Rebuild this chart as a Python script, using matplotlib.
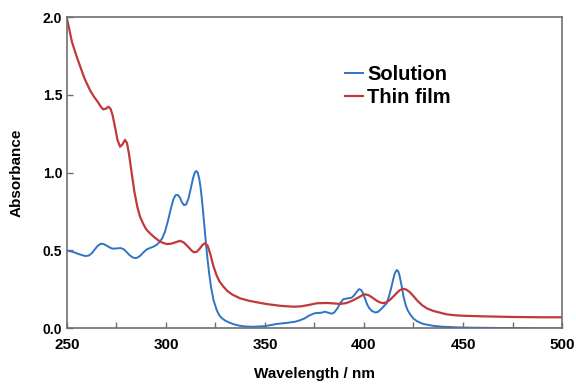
import matplotlib
matplotlib.use('Agg')
import matplotlib.pyplot as plt
from matplotlib.ticker import MultipleLocator

# solution spectrum (nm, absorbance)
sol_wl = [250, 252, 254, 256, 258, 259.5, 261, 262.5, 264, 265.5, 267, 268.5, 270, 272,
          273.4, 275, 277, 278.5, 280, 281.5, 283, 284.3, 285.5, 287, 288.5, 290.2, 292,
          293.5, 295.3, 296.5, 298, 299.5, 301, 302.5, 303.8, 304.9, 306, 307, 308, 309.1,
          310.2, 311.3, 312.4, 313.5, 314.4, 315.2, 316, 316.8, 317.5, 318.2, 318.8, 319.5,
          320.2, 321, 321.8, 322.8, 324, 325.6, 327, 328.5, 330, 332, 334, 337, 340, 344,
          350, 355.9, 361, 365, 367.7, 370, 372, 374.4, 376, 377.5, 379, 380.3, 382,
          383.7, 385, 386.5, 388, 389.5, 391.5, 393.8, 395, 396.2, 397.5, 398.5, 399.5,
          400.5, 401.5, 402.5, 404, 405.6, 407, 408.5, 410, 411.5, 412.5, 413.5, 414.5,
          415.5, 416.5, 417.3, 418, 419, 420, 421, 422, 423.3, 425, 427, 430, 435, 440,
          450, 470, 500]
sol_abs = [0.497, 0.493, 0.485, 0.475, 0.467, 0.463, 0.466, 0.48, 0.505, 0.528, 0.542,
           0.54, 0.53, 0.515, 0.51, 0.512, 0.514, 0.508, 0.49, 0.47, 0.455, 0.45, 0.452,
           0.465, 0.485, 0.505, 0.515, 0.522, 0.535, 0.55, 0.575, 0.62, 0.69, 0.77, 0.83,
           0.855, 0.855, 0.84, 0.81, 0.79, 0.795, 0.83, 0.89, 0.955, 0.995, 1.01, 1.0, 0.96,
           0.9, 0.82, 0.74, 0.64, 0.54, 0.44, 0.35, 0.26, 0.18, 0.116, 0.08, 0.06, 0.047,
           0.035, 0.025, 0.015, 0.01, 0.008, 0.012, 0.026, 0.033, 0.04, 0.05, 0.062, 0.078,
           0.092, 0.097, 0.097, 0.1, 0.105, 0.098, 0.092, 0.1, 0.125, 0.16, 0.185, 0.19,
           0.195, 0.21, 0.23, 0.25, 0.245, 0.225, 0.19, 0.155, 0.13, 0.11, 0.1, 0.103, 0.12,
           0.14, 0.16, 0.2, 0.245, 0.3, 0.35, 0.373, 0.365, 0.335, 0.27, 0.2, 0.15, 0.115,
           0.088, 0.06, 0.042, 0.026, 0.014, 0.008, 0.003, 0.0, -0.003]

# thin film spectrum
film_wl = [250, 251, 252.5, 254.9, 257, 259, 261.6, 263.5, 265.5, 267, 268.3, 269.6, 270.9,
           272, 273, 274.3, 275.5, 276.8, 278, 279.3, 280.3, 281.3, 282.7, 284, 285.5,
           286.9, 288.5, 290, 291.9, 294, 296, 298, 300.4, 302.5, 305, 307.1, 309, 311,
           313, 314.1, 315.5, 317, 318.5, 319.7, 321, 322.5, 323.9, 325.5, 327, 329, 331,
           333.5, 337.4, 342, 346, 350.9, 357.6, 364.3, 368, 372, 376.1, 381, 385, 387.9,
           391, 394, 397, 399, 400.5, 402.5, 404.5, 406.5, 408, 409.6, 411, 413, 415,
           416.5, 418, 419.2, 420.2, 421.5, 423, 425, 427, 429.5, 432, 435, 438, 441.7,
           446, 450, 460, 475, 490, 500]
film_abs = [1.99, 1.93, 1.84, 1.745, 1.67, 1.6, 1.53, 1.49, 1.455, 1.425, 1.406, 1.41,
            1.423, 1.41, 1.37, 1.29, 1.21, 1.166, 1.18, 1.21, 1.19, 1.12, 0.995, 0.88, 0.78,
            0.716, 0.67, 0.635, 0.609, 0.585, 0.565, 0.55, 0.54, 0.542, 0.552, 0.561, 0.55,
            0.525, 0.497, 0.487, 0.49, 0.51, 0.535, 0.545, 0.53, 0.47, 0.4, 0.34, 0.3, 0.266,
            0.238, 0.215, 0.191, 0.175, 0.165, 0.154, 0.143, 0.137, 0.139, 0.148, 0.159,
            0.161, 0.158, 0.155, 0.16, 0.175, 0.195, 0.21, 0.217, 0.21, 0.193, 0.175, 0.165,
            0.16, 0.163, 0.18, 0.205, 0.225, 0.243, 0.25, 0.252, 0.246, 0.232, 0.205, 0.175,
            0.145, 0.125, 0.11, 0.1, 0.088, 0.082, 0.079, 0.075, 0.071, 0.069, 0.069]

xticks = [250, 300, 350, 400, 450, 500]
yticks = [0.0, 0.5, 1.0, 1.5, 2.0]

c_sol = '#2e75c6'
c_film = '#c0393b'
gray = '#6e6e6e'

fig = plt.figure(figsize=(5.76, 3.84), dpi=100)
ax = fig.add_axes([0.1163, 0.1458, 0.8594, 0.8099])

ax.plot(sol_wl, sol_abs, color=c_sol, lw=1.4, label='Solution')
ax.plot(film_wl, film_abs, color=c_film, lw=1.6, label='Thin film')

ax.set_xlim(250, 500)
ax.set_ylim(0, 2.0)
ax.set_xticks(xticks)
ax.set_yticks(yticks)
ax.xaxis.set_minor_locator(MultipleLocator(25))
ax.set_xticklabels([str(v) for v in xticks], fontweight='bold', fontsize=11, family='Liberation Sans')
ax.set_yticklabels(['%.1f' % v for v in yticks], fontweight='bold', fontsize=10, family='Liberation Sans')
ax.tick_params(axis='both', which='both', direction='in', color=gray, length=4, width=1)
ax.tick_params(axis='x', which='minor', length=4)
ax.tick_params(axis='x', pad=7)

for s in ax.spines.values():
    s.set_color(gray)
    s.set_linewidth(1.2)

ax.set_xlabel('Wavelength / nm', fontweight='bold', fontsize=11, family='Liberation Sans', labelpad=11)
ax.set_ylabel('Absorbance', fontweight='bold', fontsize=11, family='Liberation Sans', labelpad=14)

leg = ax.legend(loc='upper left', bbox_to_anchor=(0.525, 0.905), frameon=False,
                handlelength=0.9, handletextpad=0.2, labelspacing=0.2,
                prop={'family': 'Liberation Sans', 'weight': 'bold', 'size': 14.5})

fig.savefig('out.png', dpi=100)
